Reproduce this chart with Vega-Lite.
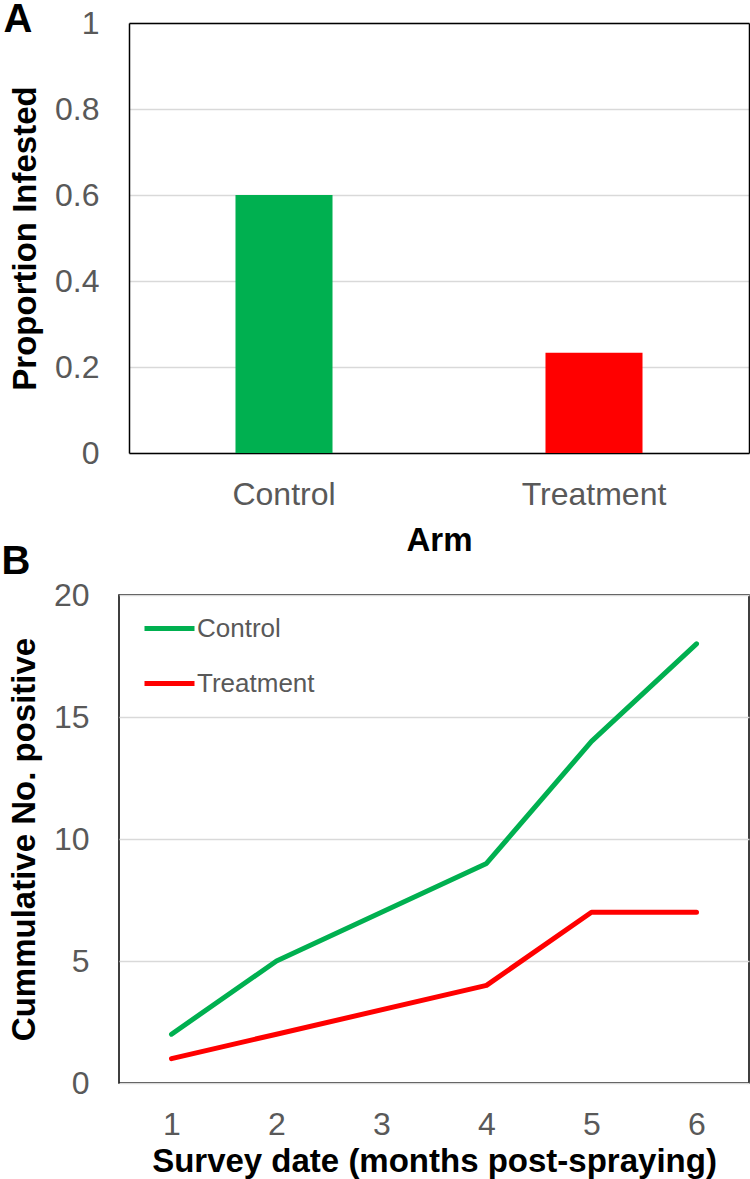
{
  "$schema": "https://vega.github.io/schema/vega-lite/v6.json",
  "background": "white",
  "padding": {"left": 0, "top": 0, "right": 0, "bottom": 0},
  "columns": 1,
  "spacing": -16,
  "resolve": {"scale": {"color": "independent"}, "legend": {"color": "independent"}},
  "config": {
    "font": "Liberation Sans",
    "view": {"stroke": "black", "strokeWidth": 1.5},
    "axis": {
      "labelFont": "Liberation Sans",
      "labelFontSize": 32,
      "labelColor": "#595959",
      "titleFont": "Liberation Sans",
      "titleFontSize": 33,
      "titleFontWeight": "bold",
      "titleColor": "black",
      "domain": false,
      "domainColor": "black",
      "domainWidth": 1.5,
      "ticks": false,
      "gridColor": "#D9D9D9",
      "gridWidth": 1.5
    },
    "title": {"font": "Liberation Sans", "fontSize": 40, "fontWeight": "bold", "color": "black"}
  },
  "concat": [
    {
      "width": 630,
      "height": 430,
      "view": {"stroke": null},
      "title": {"text": "A", "anchor": "start", "frame": "bounds", "offset": -33, "dx": -6},
      "data": {"values": [
        {"arm": "Control", "proportion": 0.6},
        {"arm": "Treatment", "proportion": 0.233}
      ]},
      "layer": [
        {
          "mark": {"type": "bar"},
          "encoding": {
            "x": {
              "field": "arm", "type": "nominal", "title": "Arm",
              "scale": {"range": [10, 630], "paddingInner": 0.687, "paddingOuter": 0.3435},
              "axis": {"orient": "bottom", "labelAngle": 0, "labelPadding": 26, "titlePadding": 14, "grid": false, "domain": true}
            },
            "y": {
              "field": "proportion", "type": "quantitative", "title": "Proportion Infested",
              "scale": {"domain": [0, 1], "nice": false},
              "axis": {"orient": "left", "offset": -10, "values": [0, 0.2, 0.4, 0.6, 0.8, 1], "format": "~g", "labelPadding": 30, "titlePadding": 12, "grid": true, "domain": true}
            },
            "color": {
              "field": "arm", "type": "nominal",
              "scale": {"domain": ["Control", "Treatment"], "range": ["#00B050", "#FF0000"]},
              "legend": null
            }
          }
        },
        {
          "mark": {"type": "bar", "opacity": 0},
          "encoding": {
            "x": {
              "field": "arm", "type": "nominal",
              "axis": {"orient": "top", "labels": false, "title": null, "grid": false, "domain": true}
            },
            "y": {
              "field": "proportion", "type": "quantitative",
              "axis": {"orient": "right", "labels": false, "title": null, "grid": false, "domain": true}
            }
          }
        }
      ],
      "resolve": {"axis": {"x": "independent", "y": "independent"}}
    },
    {
      "width": 630,
      "height": 488,
      "title": {"text": "B", "anchor": "start", "frame": "bounds", "offset": -3, "dx": -7},
      "data": {"values": [
        {"month": 1, "arm": "Control", "positive": 2},
        {"month": 2, "arm": "Control", "positive": 5},
        {"month": 4, "arm": "Control", "positive": 9},
        {"month": 5, "arm": "Control", "positive": 14},
        {"month": 6, "arm": "Control", "positive": 18},
        {"month": 1, "arm": "Treatment", "positive": 1},
        {"month": 2, "arm": "Treatment", "positive": 2},
        {"month": 4, "arm": "Treatment", "positive": 4},
        {"month": 5, "arm": "Treatment", "positive": 7},
        {"month": 6, "arm": "Treatment", "positive": 7}
      ]},
      "mark": {"type": "line", "strokeWidth": 5, "strokeCap": "round", "strokeJoin": "round"},
      "encoding": {
        "x": {
          "field": "month", "type": "quantitative", "title": "Survey date (months post-spraying)",
          "scale": {"domain": [0.5, 6.5], "nice": false, "zero": false},
          "axis": {"values": [1, 2, 3, 4, 5, 6], "labelPadding": 26, "titlePadding": 5, "grid": false}
        },
        "y": {
          "field": "positive", "type": "quantitative", "title": "Cummulative No. positive",
          "scale": {"domain": [0, 20], "nice": false},
          "axis": {"values": [0, 5, 10, 15, 20], "labelPadding": 30, "titlePadding": 12, "grid": true}
        },
        "color": {
          "field": "arm", "type": "nominal",
          "scale": {"domain": ["Control", "Treatment"], "range": ["#00B050", "#FF0000"]},
          "legend": {
            "title": null,
            "orient": "none",
            "legendX": 23,
            "legendY": 6,
            "symbolType": "stroke",
            "symbolSize": 2500,
            "symbolStrokeWidth": 5,
            "labelFont": "Liberation Sans",
            "labelFontSize": 26,
            "labelColor": "#595959",
            "labelOffset": 0,
            "rowPadding": 14,
            "padding": 0
          }
        }
      }
    }
  ]
}
